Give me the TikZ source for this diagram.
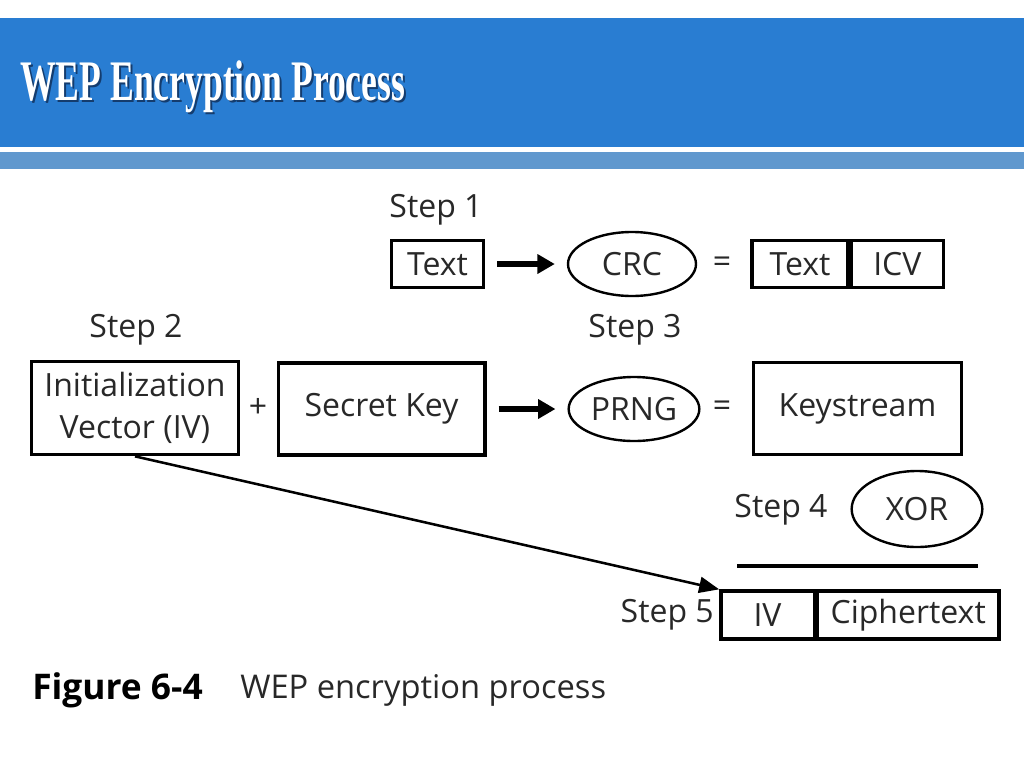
\documentclass[tikz,border=0pt]{standalone}
\usepackage{fontspec}
\setmainfont{Open Sans}
\newfontfamily\titlefont{Liberation Serif}
\usetikzlibrary{arrows.meta,shapes.geometric,calc}
\definecolor{band}{RGB}{41,125,210}
\definecolor{strip}{RGB}{96,152,206}
\definecolor{shadowc}{RGB}{20,60,110}
\definecolor{txt}{RGB}{40,40,40}
\begin{document}
\begin{tikzpicture}[x=0.75pt,y=-0.75pt,
  lbl/.style={font=\fontsize{24}{29}\selectfont, text=txt, inner sep=0pt},
  box/.style={draw=black, line width=2.5pt, inner sep=0pt, lbl},
  oval/.style={ellipse, draw=black, line width=1.8pt, inner sep=0pt, lbl},
  fatarrow/.style={line width=3.8pt, -{Triangle[length=13pt,width=14pt]}},
  longarrow/.style={line width=1.9pt, -{Triangle[length=15pt,width=12pt]}}
]
\useasboundingbox (0,0) rectangle (1024,768);
\fill[white] (0,0) rectangle (1024,768);
% header
\fill[band] (0,18) rectangle (1024,147);
\fill[strip] (0,152) rectangle (1024,169);
\node[anchor=west, inner sep=0pt, text=shadowc] (titleshadow) at (22,89)
  {\resizebox{288.75pt}{\height}{\titlefont\bfseries\fontsize{43}{46}\selectfont WEP Encryption Process}};
\node[anchor=west, inner sep=0pt, text=white] (title) at (20,87)
  {\resizebox{288.75pt}{\height}{\titlefont\bfseries\fontsize{43}{46}\selectfont WEP Encryption Process}};

% Step 1
\node[lbl] (s1) at (436,210) {Step 1};
\node[box, minimum width=69pt, minimum height=35pt] (t1) at (437.5,264) {Text};
\node[oval, minimum width=96pt, minimum height=48pt] (crc) at (632,264) {CRC};
\node[lbl] (eq1) at (722,265) {=};
\node[box, minimum width=72pt, minimum height=35pt] (t2) at (800,264) {Text};
\node[box, minimum width=69pt, minimum height=35pt, anchor=west] (icv) at (t2.east) {ICV};
\draw[fatarrow, shorten <=9pt, shorten >=9pt] (t1) -- (crc);

% Step 2 / 3
\node[lbl] (s2) at (136,330) {Step 2};
\node[box, align=center, minimum width=155pt, minimum height=70pt] (iv) at (135,408)
  {Initialization\\[3pt]Vector (IV)};
\node[lbl] (plus) at (258,408) {+};
\node[box, minimum width=155pt, minimum height=69pt] (sk) at (381.5,409) {Secret Key};
\node[lbl] (s3) at (635,330) {Step 3};
\node[oval, minimum width=98pt, minimum height=48pt] (prng) at (634,409) {PRNG};
\node[lbl] (eq2) at (722,409) {=};
\node[box, minimum width=156pt, minimum height=69pt] (ks) at (857.5,408.5) {Keystream};
\draw[fatarrow, shorten <=9pt, shorten >=9pt] (sk) -- (prng);

% Step 4
\node[lbl] (s4) at (781,510) {Step 4};
\node[oval, minimum width=98pt, minimum height=57pt] (xor) at (917,509) {XOR};
\coordinate (la) at (737,566);
\coordinate (lb) at (978,566);
\draw[line width=3pt] (la) -- (lb);

% Step 5
\node[lbl, anchor=east] (s5) at (714,615) {Step 5};
\node[box, minimum width=70pt, minimum height=36pt] (ivc) at (767.5,615) {IV};
\node[box, minimum width=136pt, minimum height=36pt, anchor=west] (ct) at (ivc.east) {Ciphertext};
\draw[longarrow] (iv.south) -- (ivc.north west);

% caption
\node[anchor=west, inner sep=0pt, text=black, font=\fontsize{26.5}{30}\selectfont\bfseries] (figno) at (32,690) {Figure 6-4};
\node[anchor=west, inner sep=0pt, text=txt, font=\fontsize{24.5}{29}\selectfont] (figcap) at (240,690) {WEP encryption process};
\end{tikzpicture}
\end{document}
